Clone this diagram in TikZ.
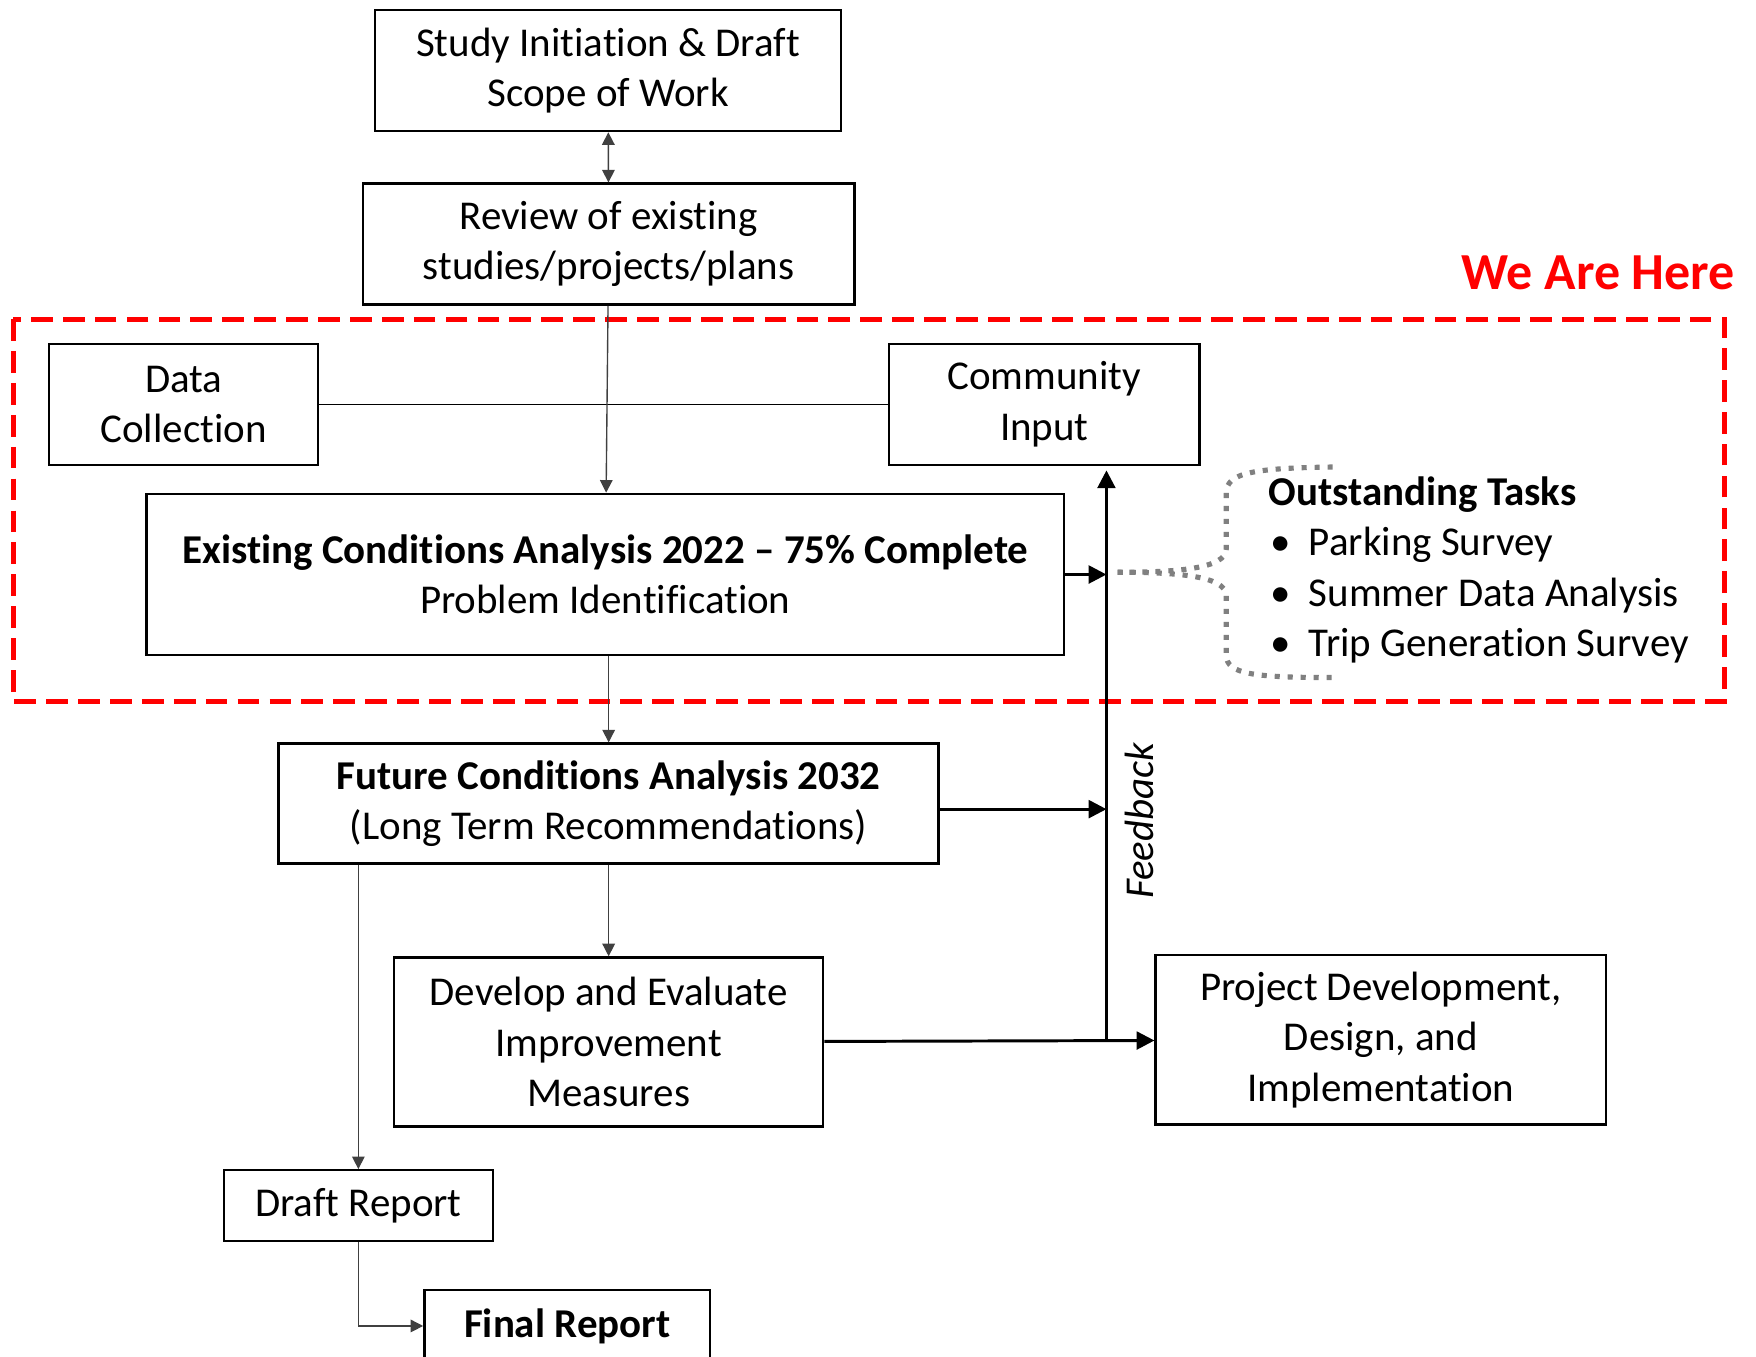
\documentclass[tikz,border=0pt]{standalone}
\usepackage{fontspec}
\setmainfont{Carlito}[Ligatures=NoCommon]
\usetikzlibrary{arrows.meta,positioning}

\tikzset{
  box/.style={rectangle,draw=black,line width=0.6pt,inner sep=0pt,align=center},
  link/.style={draw=black!75,line width=0.35pt},
  flow/.style={line width=0.75pt,>={Triangle[length=4.5pt,width=4.5pt]}},
  >={Triangle[length=3.2pt,width=3.2pt]}
}

\begin{document}
\begin{tikzpicture}[x=0.01cm,y=-0.01cm,every node/.style={font=\fontsize{10.4}{12.8}\selectfont}]
  \useasboundingbox (0,0) rectangle (1568,1211);

  % study steps
  \node[box,minimum width=4.16cm,minimum height=1.08cm] (study) at (543,63) {Study Initiation \& Draft\\Scope of Work};
  \node[box,minimum width=4.39cm,minimum height=1.08cm] (review) at (543.5,218) {Review of existing\\studies/projects/plans};
  \node[box,minimum width=2.40cm,minimum height=1.08cm] (data) at (164,361) {Data\\Collection};
  \node[box,minimum width=2.77cm,minimum height=1.08cm] (community) at (932.5,361) {Community\\Input};
  \node[box,minimum width=8.19cm,minimum height=1.44cm] (existing) at (540.5,513) {\textbf{Existing Conditions Analysis 2022 -- 75\% Complete}\\Problem Identification};
  \node[box,minimum width=5.89cm,minimum height=1.07cm] (future) at (543.5,717.5) {\textbf{Future Conditions Analysis 2032}\\(Long Term Recommendations)};
  \node[box,minimum width=3.83cm,minimum height=1.51cm] (develop) at (543.5,930.5) {Develop and Evaluate\\Improvement\\Measures};
  \node[box,minimum width=4.02cm,minimum height=1.51cm] (project) at (1233,928.5) {Project Development,\\Design, and\\Implementation};
  \node[box,minimum width=2.40cm,minimum height=0.63cm] (draft) at (320,1076.5) {Draft Report};
  \node[box,minimum width=2.55cm,minimum height=0.64cm] (final) at (506.5,1184) {\textbf{Final Report}};

  % current phase
  \draw[red,line width=1.3pt,dash pattern=on 5.5pt off 2.6pt] (12,285) rectangle (1540,626);
  \node[anchor=east,inner sep=0pt,text=red,font=\fontsize{13.2}{15}\selectfont\bfseries] (here) at (1550,244) {We Are Here};

  % outstanding tasks
  \node[anchor=west,inner sep=0pt,align=left] (tasks) at (1132,509) {\textbf{Outstanding Tasks}\\
    \hspace{0.02cm}\makebox[0.34cm][l]{\textbullet}Parking Survey\\
    \hspace{0.02cm}\makebox[0.34cm][l]{\textbullet}Summer Data Analysis\\
    \hspace{0.02cm}\makebox[0.34cm][l]{\textbullet}Trip Generation Survey};
  \draw[gray,line width=1.3pt,dotted] (1190,417) .. controls (1120,418) and (1095,422) .. (1095,440) -- (1095,490) .. controls (1095,508) and (1050,511) .. (998,511);
  \draw[gray,line width=1.3pt,dotted] (998,511) .. controls (1050,511) and (1095,514) .. (1095,532) -- (1095,585) .. controls (1095,602) and (1120,605) .. (1190,605);

  % feedback line
  \coordinate (fbtop) at (988,420);
  \coordinate (fbbot) at (988,928);
  \draw[flow,->] (fbbot) -- (fbtop);
  \node[rotate=90,font=\fontsize{10.4}{12.8}\selectfont\itshape] (fblabel) at (1017,733) {Feedback};

  % connectors
  \draw[link,<->] (study) -- (review);
  \draw[link,draw=black] (data) -- (community);
  \draw[link,->] (review) -- (existing);
  \draw[flow,->] (existing) -- (existing.east -| fbtop);
  \draw[link,->] (existing.south -| future) -- (future);
  \draw[flow,->] ([yshift=-0.05cm]future.east) -- ([yshift=-0.05cm]future.east -| fbtop);
  \draw[link,->] (future) -- (develop);
  \draw[flow,->] (develop) -- (project);
  \draw[link,->] (future.south -| draft) -- (draft);
  \draw[link,->] (draft) |- (final);
\end{tikzpicture}
\end{document}
